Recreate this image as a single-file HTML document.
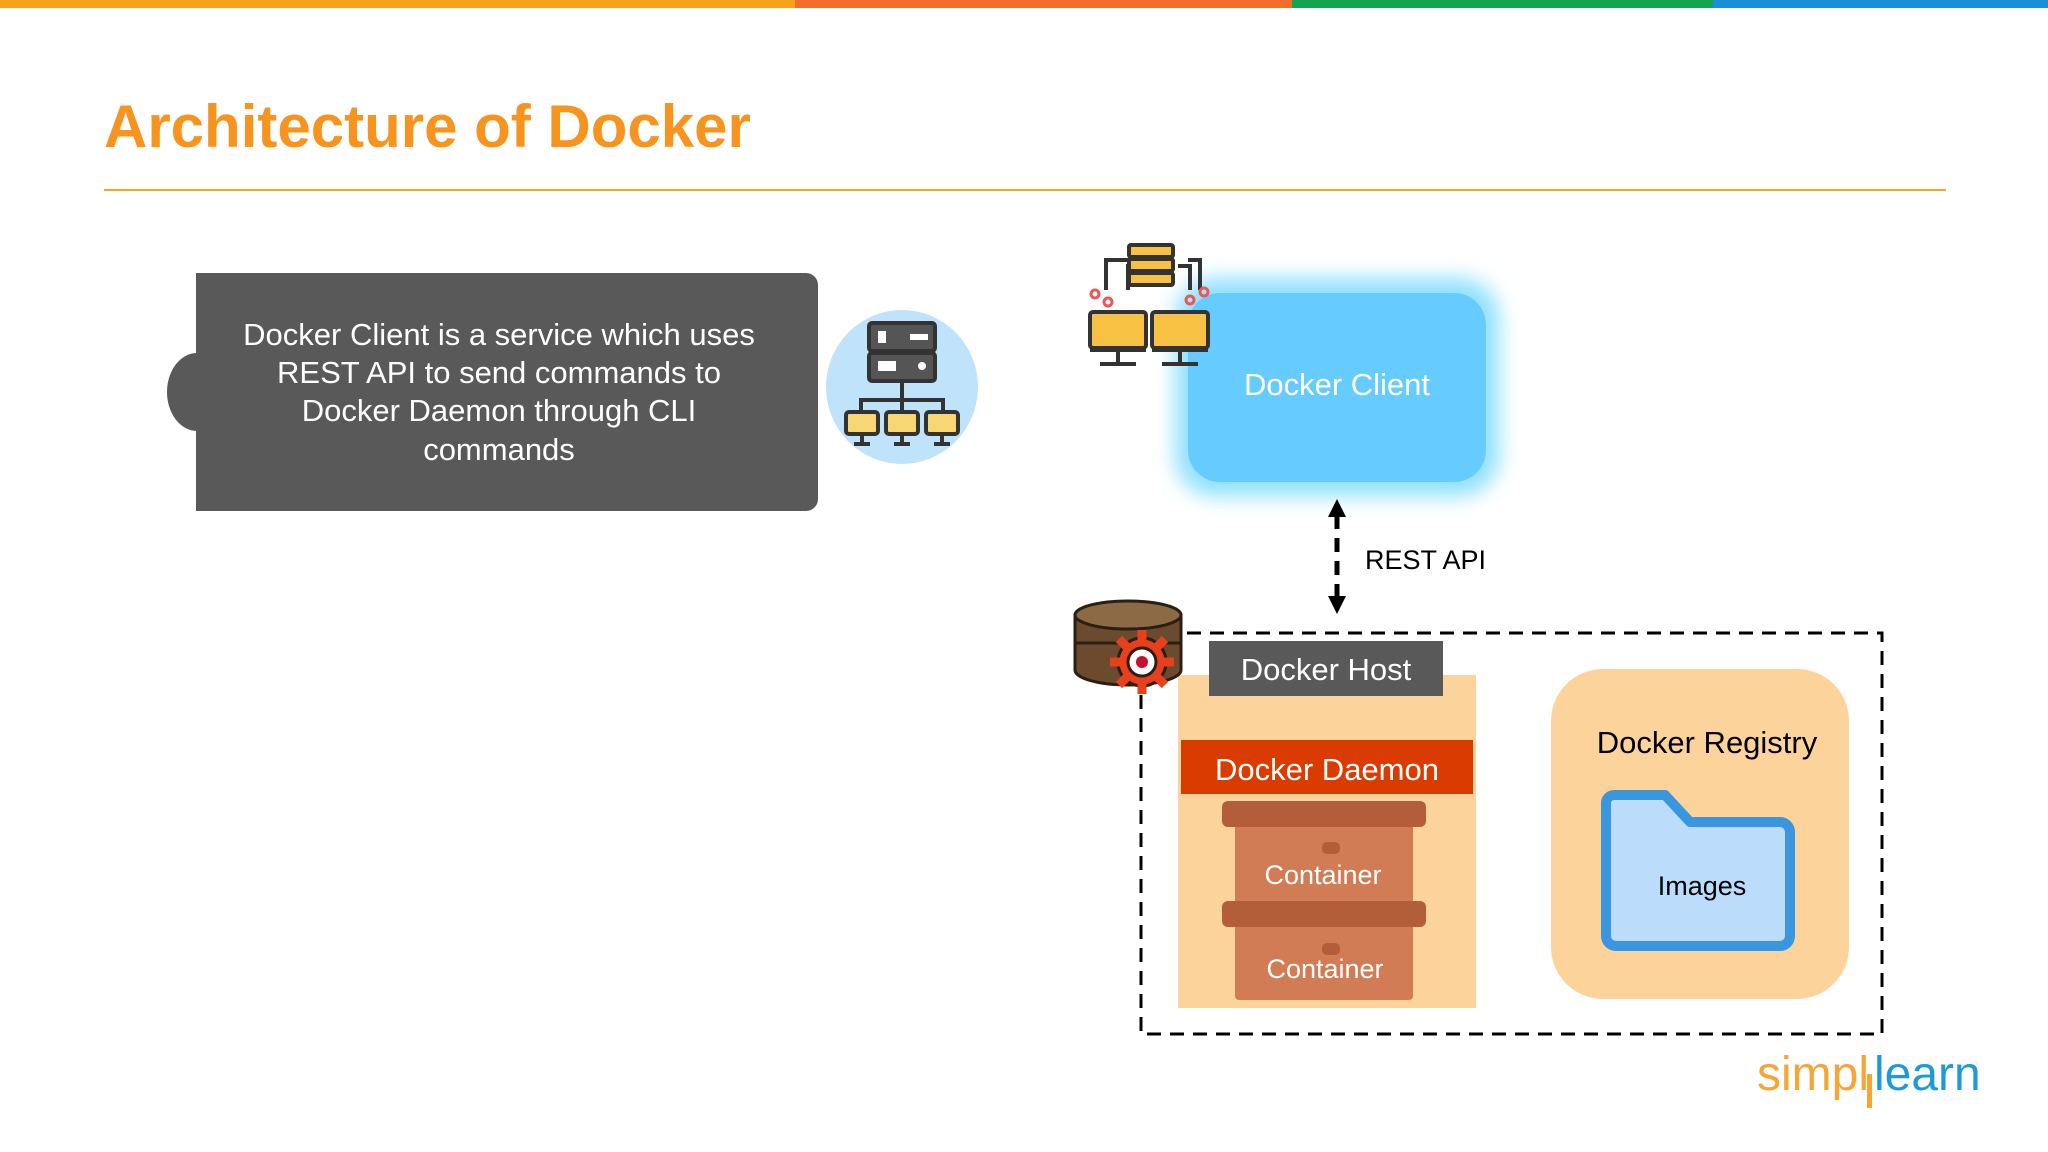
<!DOCTYPE html>
<html><head><meta charset="utf-8"><style>
html,body{margin:0;padding:0;background:#fff}
svg{display:block}
text{font-family:"Liberation Sans",Arial,sans-serif}
</style></head><body>
<svg width="2048" height="1152" viewBox="0 0 2048 1152" xmlns="http://www.w3.org/2000/svg">
<defs>
<filter id="glow" x="-30%" y="-30%" width="160%" height="160%"><feGaussianBlur stdDeviation="10"/></filter>
</defs>
<rect x="0" y="0" width="795" height="8" fill="#F7A21B"/>
<rect x="795" y="0" width="497" height="8" fill="#F26F2B"/>
<rect x="1292" y="0" width="421" height="8" fill="#13A452"/>
<rect x="1713" y="0" width="335" height="8" fill="#1A8FD6"/>
<text x="104" y="147" font-size="60" font-weight="bold" fill="#F7941D">Architecture of Docker</text>
<rect x="104" y="189" width="1842" height="2" fill="#F5A623"/>

<ellipse cx="197" cy="392" rx="30" ry="39" fill="#595959"/>
<path d="M196 273 H806 a12 12 0 0 1 12 12 V499 a12 12 0 0 1 -12 12 H196 Z" fill="#595959"/>
<g fill="#fff" font-size="31" text-anchor="middle">
<text x="499" y="345">Docker Client is a service which uses</text>
<text x="499" y="383">REST API to send commands to</text>
<text x="499" y="421">Docker Daemon through CLI</text>
<text x="499" y="460">commands</text>
</g>
<ellipse cx="902" cy="387" rx="76" ry="77" fill="#BFE3FA"/>
<g stroke="#333" stroke-width="4">
<rect x="869" y="323" width="66" height="28" rx="3" fill="#555"/>
<rect x="869" y="353" width="66" height="28" rx="3" fill="#555"/>
<line x1="902" y1="381" x2="902" y2="400"/>
<path d="M861 412 V400 H943 V412 M902 400 V412" fill="none"/>
<rect x="846" y="412" width="32" height="22" rx="3" fill="#F7D774"/>
<rect x="886" y="412" width="32" height="22" rx="3" fill="#F7D774"/>
<rect x="926" y="412" width="32" height="22" rx="3" fill="#F7D774"/>
<path d="M862 434 V444 M902 434 V444 M942 434 V444 M854 444 H870 M894 444 H910 M934 444 H950"/>
</g>
<g fill="#fff"><rect x="878" y="331" width="8" height="12"/><rect x="910" y="334" width="18" height="6"/><rect x="878" y="361" width="18" height="10"/><circle cx="922" cy="366" r="4"/></g>

<rect x="1175" y="278" width="324" height="218" rx="40" fill="#8FE0FF" filter="url(#glow)"/>
<rect x="1188" y="293" width="298" height="189" rx="32" fill="#66CCFF"/>
<text x="1337" y="395" font-size="31" fill="#fff" text-anchor="middle">Docker Client</text>
<g stroke="#333" stroke-width="4">
<path d="M1128 290 V266 H1140 M1178 266 H1190 V290 M1106 290 V260 H1130 M1200 290 V260 H1188" fill="none"/>
<rect x="1129" y="245" width="44" height="12" rx="2" fill="#F7C244"/>
<rect x="1129" y="259" width="44" height="12" rx="2" fill="#F7C244"/>
<rect x="1129" y="273" width="44" height="12" rx="2" fill="#F7C244"/>
<rect x="1090" y="312" width="56" height="36" rx="3" fill="#F7C244"/>
<rect x="1152" y="312" width="56" height="36" rx="3" fill="#F7C244"/>
<path d="M1090 350 H1146 M1152 350 H1208 M1118 352 V362 M1180 352 V362 M1100 364 H1136 M1162 364 H1198"/>
</g>
<g fill="none" stroke="#E55" stroke-width="3"><circle cx="1095" cy="294" r="4"/><circle cx="1108" cy="302" r="4"/><circle cx="1190" cy="300" r="4"/><circle cx="1204" cy="292" r="4"/></g>

<line x1="1337" y1="515" x2="1337" y2="598" stroke="#000" stroke-width="5" stroke-dasharray="14 9"/>
<polygon points="1337,499 1328,517 1346,517" fill="#000"/>
<polygon points="1337,614 1328,596 1346,596" fill="#000"/>
<text x="1365" y="569" font-size="27" fill="#000">REST API</text>

<rect x="1141" y="633" width="741" height="401" fill="none" stroke="#000" stroke-width="3" stroke-dasharray="14 9"/>
<rect x="1178" y="675" width="298" height="333" fill="#FCD49B"/>
<rect x="1209" y="641" width="234" height="55" fill="#595959"/>
<text x="1326" y="680" font-size="31" fill="#fff" text-anchor="middle">Docker Host</text>
<rect x="1181" y="740" width="292" height="54" fill="#DA3B01"/>
<text x="1327" y="780" font-size="31" fill="#fff" text-anchor="middle">Docker Daemon</text>
<rect x="1235" y="820" width="178" height="84" rx="4" fill="#D17C55"/>
<rect x="1222" y="801" width="204" height="26" rx="6" fill="#B35E38"/>
<rect x="1322" y="842" width="18" height="12" rx="5" fill="#B35E38"/>
<text x="1323" y="884" font-size="27" fill="#fff" text-anchor="middle">Container</text>
<rect x="1235" y="915" width="178" height="85" rx="4" fill="#D17C55"/>
<rect x="1222" y="901" width="204" height="26" rx="6" fill="#B35E38"/>
<rect x="1322" y="943" width="18" height="12" rx="5" fill="#B35E38"/>
<text x="1325" y="978" font-size="27" fill="#fff" text-anchor="middle">Container</text>

<g stroke="#2B1E14" stroke-width="3">
<path d="M1075 615 V670 a53 15 0 0 0 106 0 V615" fill="#6B4A2E"/>
<line x1="1075" y1="643" x2="1181" y2="643"/>
<ellipse cx="1128" cy="615" rx="53" ry="14" fill="#8C6A45"/>
</g>
<circle cx="1142" cy="662" r="24" fill="#E8401C" stroke="#2B1E14" stroke-width="3"/>
<g stroke="#E8401C" stroke-width="9"><line x1="1142" y1="630" x2="1142" y2="694"/><line x1="1110" y1="662" x2="1174" y2="662"/><line x1="1119" y1="639" x2="1165" y2="685"/><line x1="1165" y1="639" x2="1119" y2="685"/></g>
<circle cx="1142" cy="662" r="14" fill="#fff" stroke="#2B1E14" stroke-width="3"/>
<circle cx="1142" cy="662" r="6" fill="#C8102E"/>

<rect x="1551" y="669" width="298" height="330" rx="52" fill="#FCD49B"/>
<text x="1707" y="753" font-size="31" fill="#000" text-anchor="middle">Docker Registry</text>
<path d="M1606 803 a8 8 0 0 1 8 -8 H1665 L1690 822 H1780 a10 10 0 0 1 10 10 V936 a10 10 0 0 1 -10 10 H1616 a10 10 0 0 1 -10 -10 Z" fill="#BBDDFB" stroke="#3A97DF" stroke-width="10" stroke-linejoin="round"/>
<text x="1702" y="895" font-size="27" fill="#000" text-anchor="middle">Images</text>

<text x="1757" y="1090" font-size="48" fill="#F7A635">simpl</text>
<rect x="1867" y="1074" width="5" height="34" fill="#F7A635"/>
<text x="1874" y="1090" font-size="48" fill="#1E9BD7">learn</text>
</svg>
</body></html>
